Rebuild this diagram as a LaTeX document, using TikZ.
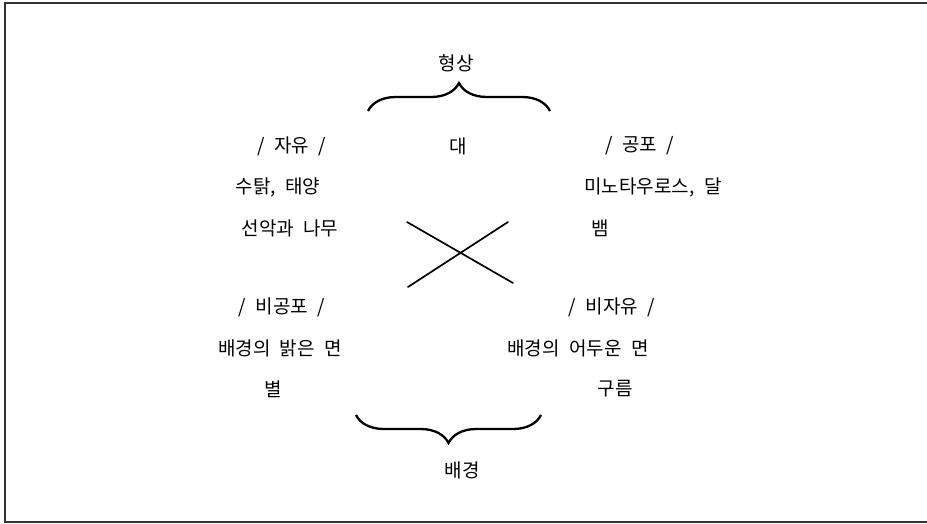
\documentclass[tikz,border=0pt]{standalone}
\usepackage{fontspec}
\setmainfont{Noto Sans CJK KR}[WordSpace=2.2]
\usetikzlibrary{decorations.pathreplacing}
\tikzset{
  lbl/.style={inner sep=0pt, font=\fontsize{19}{19}\selectfont, anchor=center},
  crossline/.style={line width=1.7pt, line cap=round},
  curly/.style={line width=2.3pt, decorate, decoration={brace, amplitude=28pt, aspect=0.5}},
  frame/.style={line width=1.3pt, black!80}
}
\begin{document}
\begin{tikzpicture}[x=1pt,y=-1pt]
\useasboundingbox (0,0) rectangle (927,524);
% frame
\coordinate (f1) at (927,3);
\coordinate (f2) at (5,3);
\coordinate (f3) at (5,522);
\coordinate (f4) at (927,522);
\draw[frame] (f1) -- (f2) -- (f3) -- (f4);

% top label and brace
\node[lbl] (hyeongsang) at (456,63) {형상};
\coordinate (tb1) at (368,111);
\coordinate (tb2) at (550,111);
\draw[curly] (tb1) -- (tb2);
\node[lbl] (dae) at (458,146) {대};

% top-left
\node[lbl] (jayu) at (292,146) {/ 자유 /};
\node[lbl] (sutak) at (278,187) {수탉, 태양};
\node[lbl] (seonak) at (290,228) {선악과 나무};

% top-right
\node[lbl] (gongpo) at (640,146) {/ 공포 /};
\node[lbl] (mino) at (653,187) {미노타우로스, 달};
\node[lbl] (baem) at (600,228) {뱀};

% cross
\coordinate (xa1) at (407,222);
\coordinate (xa2) at (513,283);
\coordinate (xb1) at (408,287);
\coordinate (xb2) at (508,222);
\draw[crossline] (xa1) -- (xa2);
\draw[crossline] (xb1) -- (xb2);

% bottom-left
\node[lbl] (bigongpo) at (282,307) {/ 비공포 /};
\node[lbl] (balgeun) at (280,348) {배경의 밝은 면};
\node[lbl] (byeol) at (273,389) {별};

% bottom-right
\node[lbl] (bijayu) at (612,307) {/ 비자유 /};
\node[lbl] (eoduun) at (578,348) {배경의 어두운 면};
\node[lbl] (gureum) at (615,389) {구름};

% bottom brace and label
\coordinate (bb1) at (541,415);
\coordinate (bb2) at (356,415);
\draw[curly] (bb1) -- (bb2);
\node[lbl] (baegyeong) at (462,470) {배경};
\end{tikzpicture}
\end{document}
